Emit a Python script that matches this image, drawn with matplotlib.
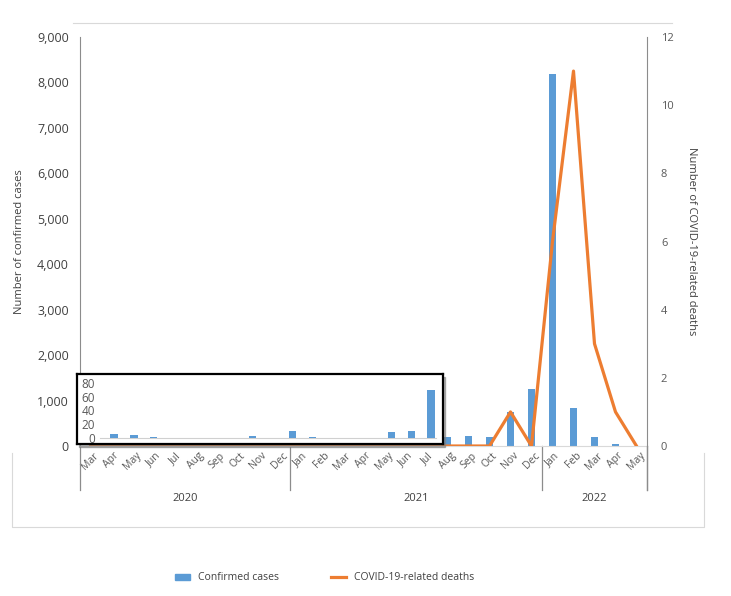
import matplotlib
matplotlib.use('Agg')
import matplotlib.pyplot as plt
import matplotlib.transforms as mtransforms
from matplotlib.patches import Rectangle
from matplotlib.lines import Line2D
from matplotlib.ticker import FuncFormatter

# monthly data, Mar 2020 - May 2022
months = ['Mar', 'Apr', 'May', 'Jun', 'Jul', 'Aug', 'Sep', 'Oct', 'Nov', 'Dec',
          'Jan', 'Feb', 'Mar', 'Apr', 'May', 'Jun', 'Jul', 'Aug', 'Sep', 'Oct', 'Nov', 'Dec',
          'Jan', 'Feb', 'Mar', 'Apr', 'May']
years = ['2020', '2021', '2022']
months_per_year = [10, 12, 5]
cases = [6, 4, 2, 0, 0, 0, 0, 3, 0, 10,
         2, 0, 0, 0, 9, 10, 70, 205, 220, 205, 740, 1250,
         8180, 840, 205, 37, 0]
deaths = [0, 0, 0, 0, 0, 0, 0, 0, 0, 0,
          0, 0, 0, 0, 0, 0, 0, 0, 0, 0, 1, 0,
          6, 11, 3, 1, 0]
inset_months = 17  # Mar 2020 - Jul 2021 shown in the zoom box

blue = '#5B9BD5'
orange = '#ED7D31'
grey_txt = '#595959'
line_grey = '#8c8c8c'

plt.rcParams['font.family'] = ['Open Sans', 'DejaVu Sans']

fig = plt.figure(figsize=(7.31, 5.96), dpi=100)
W, H = 731, 596

def fx(px):
    return px / W

def fy(py):
    return 1 - py / H

# main axes
ax = fig.add_axes([fx(80), fy(446), fx(647) - fx(80), fy(37) - fy(446)])
x = list(range(len(months)))
ax.bar(x, cases, width=0.38, color=blue, zorder=2)
ax.set_xlim(-0.5, len(months) - 0.5)
ax.set_ylim(0, 9000)
ax.set_yticks(range(0, 9001, 1000))
ax.yaxis.set_major_formatter(FuncFormatter(lambda v, p: f'{int(v):,}'))
ax.tick_params(axis='y', length=0, labelsize=9, colors='#404040', pad=8)
ax.set_xticks(x)
ax.set_xticklabels(months, rotation=45, ha='center', fontsize=7.5, color=grey_txt)
ax.tick_params(axis='x', length=0, pad=3)
for s in ['top', 'right']:
    ax.spines[s].set_visible(False)
ax.spines['left'].set_color(line_grey)
ax.spines['bottom'].set_color('#d9d9d9')
ax.set_ylabel('Number of confirmed cases', fontsize=8, color='#404040', labelpad=9)

# year group separators and labels
trans = mtransforms.blended_transform_factory(ax.transData, ax.transAxes)
start = -0.5
bounds = [start]
for n in months_per_year:
    start += n
    bounds.append(start)
for b in bounds:
    ax.plot([b, b], [0, -0.108], transform=trans, color=line_grey, lw=0.9, clip_on=False)
for i, yr in enumerate(years):
    ax.text((bounds[i] + bounds[i + 1]) / 2, -0.128, yr, transform=trans,
            ha='center', va='center', fontsize=8, color='#404040')

# deaths on secondary axis
ax2 = ax.twinx()
ax2.plot(x, deaths, color=orange, lw=2.3, zorder=3)
ax2.set_ylim(0, 12)
ax2.set_yticks(range(0, 13, 2))
ax2.tick_params(axis='y', length=0, labelsize=8, colors=grey_txt, pad=10)
for s in ['top', 'left', 'bottom']:
    ax2.spines[s].set_visible(False)
ax2.spines['right'].set_color(line_grey)
ax2.plot([1, 1], [0, -0.108], transform=ax2.transAxes, color=line_grey, lw=0.9, clip_on=False)
ax2.set_ylabel('Number of COVID-19-related deaths', fontsize=8, color='#404040',
               rotation=270, labelpad=17)

# zoom box for small counts
shadow = Rectangle((fx(79), fy(447)), fx(443) - fx(77), fy(374) - fy(444),
                   transform=fig.transFigure, color='#7f7f7f', alpha=0.6, zorder=4)
fig.add_artist(shadow)
axi = fig.add_axes([fx(77), fy(444), fx(443) - fx(77), fy(374) - fy(444)], zorder=5)
xi = list(range(inset_months))
axi.bar(xi, cases[:inset_months], width=0.37, color=blue, zorder=2)
axi.set_xlim(-1.87, 16.6)
axi.set_ylim(-8.7, 93)
axi.axhline(0, xmin=0.063, xmax=0.98, color='#d0d0d0', lw=0.8, zorder=1)
axi.set_xticks([])
axi.set_yticks(range(0, 81, 20))
axi.tick_params(axis='y', length=0, labelsize=8.5, colors=grey_txt, pad=-13)
for s in axi.spines.values():
    s.set_color('black')
    s.set_linewidth(1.6)

# light frame lines
frame = '#d9d9d9'
fig.add_artist(Line2D([fx(73), fx(672)], [fy(23), fy(23)], color=frame, lw=0.8))
fig.add_artist(Line2D([fx(12), fx(12), fx(704), fx(704)],
                      [fy(453), fy(527), fy(527), fy(453)], color=frame, lw=0.8))

# legend
handles = [Rectangle((0, 0), 1, 1, color=blue),
           Line2D([0], [0], color=orange, lw=2.3)]
fig.legend(handles, ['Confirmed cases', 'COVID-19-related deaths'], ncol=2,
           loc='center', bbox_to_anchor=(fx(325), fy(578)), frameon=False,
           fontsize=7.5, handlelength=1.4, handleheight=0.5, columnspacing=5.0,
           labelcolor='#404040')

fig.savefig('out.png', dpi=100)
